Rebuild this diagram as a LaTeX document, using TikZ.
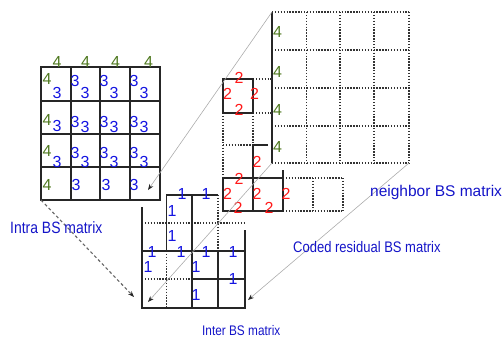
\documentclass[tikz,border=0pt]{standalone}
\usepackage{fontspec}
\setmainfont{Liberation Sans}
\newfontfamily\labn[FakeStretch=0.85]{Liberation Sans}
\usetikzlibrary{arrows.meta}
\definecolor{gfour}{RGB}{78,120,30}
\definecolor{bdig}{RGB}{20,20,225}
\definecolor{rdig}{RGB}{255,25,25}
\definecolor{blab}{RGB}{20,20,200}
\tikzset{
  solidl/.style={line width=1.8pt, draw=black!85},
  dotl/.style={line width=1.4pt, dash pattern=on 1.4pt off 1.5pt, draw=black!80},
  digit/.style={inner sep=0pt, font=\fontsize{16}{16}\selectfont},
  four/.style={digit, text=gfour},
  three/.style={digit, text=bdig},
  one/.style={digit, text=bdig},
  two/.style={digit, text=rdig},
  gline/.style={draw=gray!65, line width=0.6pt, -{Stealth[length=6pt,width=4.5pt,color=black!85]}},
  dline/.style={draw=black!60, line width=1.1pt, dash pattern=on 3pt off 2.5pt, -{Stealth[length=6pt,width=4.5pt,color=black!85]}},
  lab/.style={inner sep=0pt, text=blab, anchor=base west}
}
\begin{document}
\begin{tikzpicture}[x=1pt,y=-1pt]
\useasboundingbox (0,0) rectangle (504,338);

% ---------- Intra BS matrix ----------
\foreach \x in {71,100,130} \draw[solidl] (\x,67) -- (\x,200);
\foreach \y in {100.7,134,167.3} \draw[solidl] (41,\y) -- (160,\y);
\draw[solidl] (41,67) rectangle (160,200);
\coordinate (intraBL) at (41,200);
\coordinate (intraIn) at (148,190);

\foreach \x [count=\i] in {57,85.5,115.5,148.5} \node[four] (t4-\i) at (\x,62) {4};
\foreach \r/\ya/\yb in {1/79/92.5, 2/120/126, 3/151/161.5} {
  \node[four] (i4-\r) at (47,\ya) {4};
  \node[three] (i3-\r-1) at (57,\yb) {3};
  \foreach \c/\L in {2/71,3/100,4/130} {
    \node[three] (i3-\r-\c a) at (\L+4,\ya+1.5) {3};
    \node[three] (i3-\r-\c b) at (\L+14,\yb+0.5) {3};
  }
}
\node[four] (i4-4) at (47,185) {4};
\node[three] (i3-4-2) at (76,185) {3};
\node[three] (i3-4-3) at (106,185) {3};
\node[three] (i3-4-4) at (134,185) {3};

% ---------- neighbor BS matrix ----------
\foreach \y in {12,50,88,126,163} \draw[dotl] (272,\y) -- (409,\y);
\foreach \x in {306.7,340,374,409} \draw[dotl] (\x,12) -- (\x,163);
\draw[solidl] (272,12) -- (272,163);
\coordinate (nbTL) at (272,12);
\coordinate (nbBL) at (272,163);
\coordinate (nbBR) at (409,163);
\node[four] (n4-1) at (277.5,32) {4};
\node[four] (n4-2) at (277.5,72) {4};
\node[four] (n4-3) at (277.5,110) {4};
\node[four] (n4-4) at (277.5,147) {4};

% ---------- Coded residual BS matrix ----------
\draw[dotl] (253,79) -- (272,79);
\draw[dotl] (253,113) -- (272,113);
\draw[dotl] (223,113) -- (223,178);
\draw[dotl] (253,113) -- (253,145);
\draw[dotl] (223,145) -- (253,145);
\draw[dotl] (283,178) -- (343,178);
\draw[dotl] (283,211) -- (343,211);
\draw[dotl] (313,178) -- (313,211);
\draw[dotl] (343,178) -- (343,211);
\draw[solidl] (223,79) rectangle (253,113);
\draw[solidl] (268,145) -- (253,145) -- (253,211);
\draw[solidl] (223,178) rectangle (283,211);
\draw[solidl] (283,170) -- (283,211);
\node[two] (r2-1) at (239,78) {2};
\node[two] (r2-2) at (227.5,94) {2};
\node[two] (r2-3) at (254.5,94) {2};
\node[two] (r2-4) at (239,110) {2};
\node[two] (r2-5) at (257,162) {2};
\node[two] (r2-6) at (239,179) {2};
\node[two] (r2-7) at (227.5,194) {2};
\node[two] (r2-8) at (257,194) {2};
\node[two] (r2-9) at (286,194) {2};
\node[two] (r2-10) at (238,208) {2};
\node[two] (r2-11) at (269,208) {2};

% ---------- Inter BS matrix ----------
\draw[dotl] (142,223) -- (245,223);
\draw[dotl] (218,195) -- (218,251);
\draw[dotl] (142,279) -- (192,279);
\draw[dotl] (166.5,251) -- (166.5,308);
\draw[solidl] (166,195) -- (218,195);
\draw[solidl] (166.5,195) -- (166.5,251);
\draw[solidl] (192,195) -- (192,308);
\draw[solidl] (142,207) -- (142,308) -- (245,308) -- (245,230);
\draw[solidl] (142,251) -- (245,251);
\draw[solidl] (192,279) -- (245,279);
\draw[solidl] (218,251) -- (218,308);
\coordinate (interTL) at (134,297);
\coordinate (interBL) at (148,302);
\coordinate (interBR) at (248,300);
\node[one] (o1-1) at (182,194) {1};
\node[one] (o1-2) at (206,194) {1};
\node[one] (o1-3) at (172,211) {1};
\node[one] (o1-4) at (172,236) {1};
\node[one] (o1-5) at (152,252) {1};
\node[one] (o1-6) at (181,252) {1};
\node[one] (o1-7) at (206,252) {1};
\node[one] (o1-8) at (233,252) {1};
\node[one] (o1-9) at (148,267) {1};
\node[one] (o1-10) at (196,267) {1};
\node[one] (o1-11) at (233,279) {1};
\node[one] (o1-12) at (196,295) {1};

% ---------- connectors ----------
\draw[gline] (nbTL) -- (intraIn);
\draw[gline] (nbBL) -- (interBL);
\draw[gline] (nbBR) -- (interBR);
\draw[dline] (intraBL) -- (interTL);

% ---------- labels ----------
\node[lab, font=\labn\fontsize{16.4}{16}\selectfont] (lIntra) at (10,233) {Intra BS matrix};
\node[lab, font=\fontsize{15.5}{16}\selectfont] (lNb) at (370,196) {neighbor BS matrix};
\node[lab, font=\labn\fontsize{15.3}{16}\selectfont] (lRes) at (293,252.5) {Coded residual BS matrix};
\node[lab, font=\labn\fontsize{13.9}{14}\selectfont] (lInter) at (202,335) {Inter BS matrix};
\end{tikzpicture}
\end{document}
